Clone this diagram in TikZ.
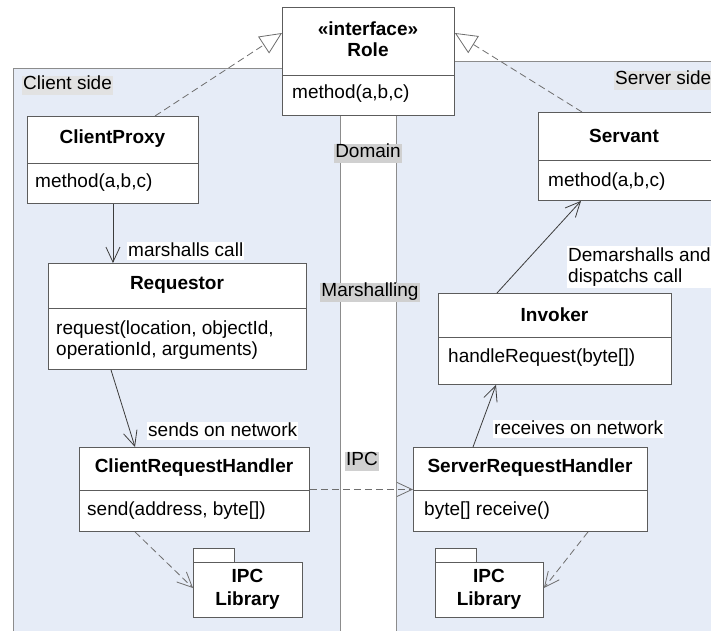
\documentclass[tikz,border=0pt]{standalone}
\usepackage{fontspec}
\setmainfont{Liberation Sans}
\usetikzlibrary{arrows.meta,calc}
\definecolor{panelblue}{HTML}{E6ECF7}
\definecolor{panelline}{HTML}{8C8C8C}
\definecolor{boxline}{HTML}{5C5C5C}
\definecolor{labgray}{HTML}{E2E2E2}
\definecolor{zonegray}{HTML}{D0D0D0}
\definecolor{dashgray}{HTML}{6E6E6E}
\definecolor{linegray}{HTML}{3C3C3C}
\tikzset{
  umlbox/.style={draw=boxline, fill=white, line width=0.9pt, inner sep=0pt, anchor=north west},
  divider/.style={draw=boxline, line width=0.9pt},
  title/.style={font=\fontsize{19}{22}\selectfont\bfseries, inner sep=0pt},
  optext/.style={anchor=west, inner sep=0pt, align=left},
  panel/.style={draw=panelline, fill=panelblue, line width=0.9pt},
  sidelabel/.style={fill=labgray, anchor=west, inner xsep=1pt, inner ysep=0pt, text height=14pt, text depth=5pt},
  zonelabel/.style={fill=zonegray, inner xsep=1pt, inner ysep=0pt, text height=14pt, text depth=5pt},
  edgelabel/.style={fill=white, anchor=west, inner xsep=1pt, inner ysep=0pt, text height=14pt, text depth=4pt},
  vtip/.tip={Straight Barb[length=15pt, width=14pt, line width=0.8pt]},
  realize/.style={draw=dashgray, line width=0.8pt, dash pattern=on 7pt off 4pt, -{Triangle[open, length=22pt, width=20pt, fill=white, line width=0.8pt]}},
  calls/.style={draw=linegray, line width=0.8pt, -vtip},
  uses/.style={draw=dashgray, line width=0.8pt, dash pattern=on 7pt off 4pt, -vtip},
}
\begin{document}
\begin{tikzpicture}[x=1pt, y=-1pt, font=\fontsize{19}{21}\selectfont]
\useasboundingbox (0,0) rectangle (711,630);
\begin{scope}
\clip (0,0) rectangle (711,630);
% panels
\path[panel] (13,68) rectangle (340,640);
\path[panel] (396,61) rectangle (720,640);
\node[sidelabel] (clientside) at (22,85) {Client side};
\node[sidelabel] (serverside) at (614,80) {Server side};
\node[zonelabel] (domain) at (368,153) {Domain};
\node[zonelabel] (marsh) at (370,292) {Marshalling};
\node[zonelabel] (ipc) at (362,461) {IPC};

% Role
\node[umlbox, minimum width=172pt, minimum height=108pt] (role) at (282,7) {};
\draw[divider] (role.west |- 0,75) -- (role.east |- 0,75);
\node[title] (roleS) at (368,29) {«interface»};
\node[title] (roleN) at (368,50) {Role};
\node[optext] (roleM) at (292,94) {method(a,b,c)};

% ClientProxy
\node[umlbox, minimum width=171pt, minimum height=87pt] (cp) at (27,116) {};
\draw[divider] (cp.west |- 0,163) -- (cp.east |- 0,163);
\node[title] (cpN) at (112.5,139) {ClientProxy};
\node[optext] (cpM) at (35,183) {method(a,b,c)};

% Requestor
\node[umlbox, minimum width=258pt, minimum height=106pt] (req) at (48,263) {};
\draw[divider] (req.west |- 0,308) -- (req.east |- 0,308);
\node[title] (reqN) at (177,285) {Requestor};
\node[optext] (reqM) at (56,340) {request(location, objectId,\\operationId, arguments)};

% ClientRequestHandler
\node[umlbox, minimum width=230pt, minimum height=84pt] (crh) at (79,447) {};
\draw[divider] (crh.west |- 0,490) -- (crh.east |- 0,490);
\node[title] (crhN) at (194,468) {ClientRequestHandler};
\node[optext] (crhM) at (87,511) {send(address, byte[])};

% IPC Library left
\draw[draw=boxline, fill=white, line width=0.9pt] (193,562) rectangle (234,548);
\node[umlbox, minimum width=109pt, minimum height=55pt] (ipcL) at (193,562) {};
\node[title, align=center] (ipcLN) at (247.5,589) {IPC\\[1pt]Library};

% Servant
\node[umlbox, minimum width=176pt, minimum height=88pt] (sv) at (538,112) {};
\draw[divider] (sv.west |- 0,160) -- (sv.east |- 0,160);
\node[title] (svN) at (624,136) {Servant};
\node[optext] (svM) at (548,182) {method(a,b,c)};

% Invoker
\node[umlbox, minimum width=233pt, minimum height=91pt] (inv) at (438,293) {};
\draw[divider] (inv.west |- 0,337) -- (inv.east |- 0,337);
\node[title] (invN) at (554.5,315) {Invoker};
\node[optext] (invM) at (448,358) {handleRequest(byte[])};

% ServerRequestHandler
\node[umlbox, minimum width=234pt, minimum height=84pt] (srh) at (413,447) {};
\draw[divider] (srh.west |- 0,490) -- (srh.east |- 0,490);
\node[title] (srhN) at (530,468) {ServerRequestHandler};
\node[optext] (srhM) at (424,511) {byte[] receive()};

% IPC Library right
\draw[draw=boxline, fill=white, line width=0.9pt] (435,562) rectangle (476,548);
\node[umlbox, minimum width=108pt, minimum height=55pt] (ipcR) at (435,562) {};
\node[title, align=center] (ipcRN) at (489,589) {IPC\\[1pt]Library};

% connectors
\draw[realize] ([xshift=128pt]cp.north west) -- ([yshift=-26pt]role.north west);
\draw[realize] ([xshift=44pt]sv.north west) -- ([yshift=-26pt]role.north east);
\draw[calls] (cp.south) -- (cp.south |- req.north);
\draw[calls] ([xshift=63pt]req.south west) -- ([xshift=56pt]crh.north west);
\draw[uses] (crh.east) -- (srh.west);
\draw[uses] ([xshift=56pt]crh.south west) -- ([yshift=-26pt]ipcL.north west);
\draw[uses] ([xshift=175pt]srh.south west) -- ([yshift=-26pt]ipcR.north east);
\draw[calls] ([xshift=60pt]srh.north west) -- ([xshift=58pt]inv.south west);
\draw[calls] ([xshift=59pt]inv.north west) -- ([xshift=43pt]sv.south west);

% connector labels
\node[edgelabel] (l1) at (127,251) {marshalls call};
\node[edgelabel] (l2) at (147,431) {sends on network};
\node[edgelabel] (l3) at (493,429) {receives on network};
\node[fill=white, anchor=west, inner xsep=1pt, inner ysep=2pt, align=left] (l4) at (567,267) {Demarshalls and\\dispatchs call};
\end{scope}
\end{tikzpicture}
\end{document}
